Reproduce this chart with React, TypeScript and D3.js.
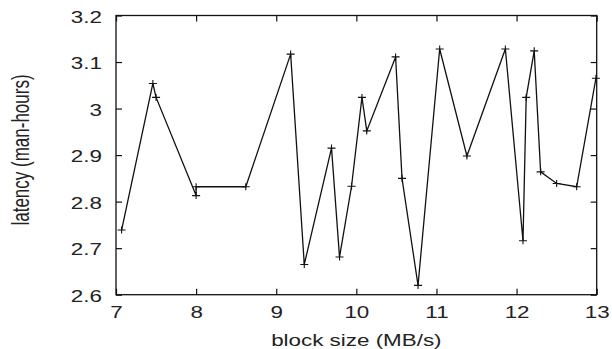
import React, { useEffect, useRef } from 'react';
import * as d3 from 'd3';

// block size (MB/s) -- order matters, the line follows the array
const blockSize = [7.07, 7.46, 7.5, 8.0, 8.0, 8.62, 9.18, 9.35, 9.69, 9.79, 9.94, 10.07, 10.13, 10.49, 10.57, 10.77, 11.04, 11.38, 11.86, 12.08, 12.12, 12.22, 12.3, 12.5, 12.75, 12.99];
// latency (man-hours)
const latency = [2.739, 3.054, 3.024, 2.813, 2.832, 2.832, 3.117, 2.665, 2.915, 2.681, 2.833, 3.024, 2.952, 3.111, 2.85, 2.62, 3.128, 2.898, 3.128, 2.716, 3.024, 3.124, 2.864, 2.839, 2.832, 3.065];

const xTicks = [7, 8, 9, 10, 11, 12, 13];
const yTicks = [2.6, 2.7, 2.8, 2.9, 3.0, 3.1, 3.2];
const xTitle = 'block size (MB/s)';
const yTitle = 'latency (man-hours)';

const W = 612;
const H = 349;
const FONT = '"Liberation Sans", Arial, Helvetica, sans-serif';
const STRETCH = 1.4; // text in the reference is widened horizontally

const App = () => {
    const svgRef = useRef<SVGSVGElement>(null);

    useEffect(() => {
        document.body.style.margin = '0';
        const svg = d3.select(svgRef.current);
        svg.selectAll('*').remove();

        const left = 116, right = 596.7, top = 15.5, bottom = 294.7;
        const x = d3.scaleLinear().domain([7, 13]).range([left, right]);
        const y = d3.scaleLinear().domain([2.6, 3.2]).range([bottom, top]);
        const ink = '#111';
        const textInk = '#222';

        // ticks on all four sides, pointing inwards
        const gB = svg.append('g').attr('transform', `translate(0,${bottom})`)
            .call(d3.axisBottom(x).tickValues(xTicks).tickSize(-6).tickSizeOuter(0).tickFormat(d3.format('d')));
        const gL = svg.append('g').attr('transform', `translate(${left},0)`)
            .call(d3.axisLeft(y).tickValues(yTicks).tickSize(-6).tickSizeOuter(0).tickFormat(d => String(+d)));
        const gT = svg.append('g').attr('transform', `translate(0,${top})`)
            .call(d3.axisTop(x).tickValues(xTicks).tickSize(-6).tickSizeOuter(0).tickFormat(() => ''));
        const gR = svg.append('g').attr('transform', `translate(${right},0)`)
            .call(d3.axisRight(y).tickValues(yTicks).tickSize(-6).tickSizeOuter(0).tickFormat(() => ''));

        [gB, gL, gT, gR].forEach(g => {
            g.select('.domain').remove();
            g.selectAll('line').attr('stroke', ink).attr('stroke-width', 1.2);
        });

        gB.selectAll('text')
            .attr('x', null).attr('y', null)
            .attr('dy', '0.35em')
            .attr('transform', `translate(0,18) scale(${STRETCH},1)`)
            .attr('font-family', FONT).attr('font-size', 16).attr('fill', textInk);

        gL.selectAll('text')
            .attr('x', null).attr('y', null)
            .attr('dy', '0.35em')
            .attr('text-anchor', 'end')
            .attr('transform', `translate(-14,1) scale(${STRETCH},1)`)
            .attr('font-family', FONT).attr('font-size', 16).attr('fill', textInk);

        // frame
        svg.append('rect')
            .attr('x', left).attr('y', top)
            .attr('width', right - left).attr('height', bottom - top)
            .attr('fill', 'none').attr('stroke', ink).attr('stroke-width', 1.3);

        const pts = blockSize.map((b, i) => [b, latency[i]] as [number, number]);

        svg.append('path')
            .datum(pts)
            .attr('fill', 'none')
            .attr('stroke', ink)
            .attr('stroke-width', 1.3)
            .attr('d', d3.line<[number, number]>().x(d => x(d[0])).y(d => y(d[1])));

        // "+" markers
        svg.append('g').selectAll('path')
            .data(pts)
            .join('path')
            .attr('fill', 'none')
            .attr('stroke', ink)
            .attr('stroke-width', 1.1)
            .attr('d', d => {
                const cx = x(d[0]), cy = y(d[1]);
                return `M${cx - 4},${cy}H${cx + 4}M${cx},${cy - 3.5}V${cy + 3.5}`;
            });

        // axis titles
        svg.append('text')
            .attr('transform', `translate(${(left + right) / 2},340) scale(${STRETCH},1)`)
            .attr('dy', '0.35em')
            .attr('text-anchor', 'middle')
            .attr('font-family', FONT).attr('font-size', 16).attr('fill', textInk)
            .text(xTitle);

        svg.append('text')
            .attr('transform', `translate(21,150) scale(${STRETCH},1) rotate(-90)`)
            .attr('dy', '0.35em')
            .attr('text-anchor', 'middle')
            .attr('font-family', FONT).attr('font-size', 17).attr('fill', textInk)
            .text(yTitle);
    }, []);

    return <svg ref={svgRef} width={W} height={H} style={{ display: 'block', background: '#fff' }}></svg>;
};

export default App;
